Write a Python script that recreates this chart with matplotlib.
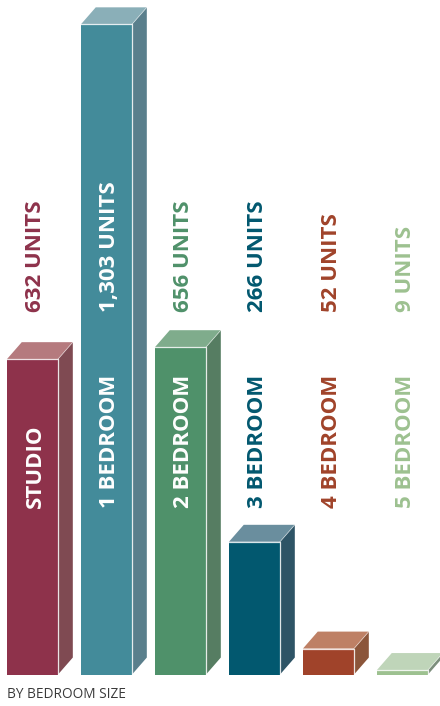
import matplotlib
matplotlib.use('Agg')
import matplotlib.pyplot as plt
from matplotlib.patches import Polygon

# data
categories = ['STUDIO', '1 BEDROOM', '2 BEDROOM', '3 BEDROOM', '4 BEDROOM', '5 BEDROOM']
units = [632, 1303, 656, 266, 52, 9]
unit_labels = ['632 UNITS', '1,303 UNITS', '656 UNITS', '266 UNITS', '52 UNITS', '9 UNITS']

front_colors = ['#8e324b', '#438b9a', '#4f916a', '#02586f', '#a0432a', '#9dc190']
side_colors = ['#7f4a52', '#5a7f8c', '#567d62', '#2e5466', '#8b553a', '#7c8e7c']
top_colors = ['#b57a7e', '#8aafb8', '#7fac8c', '#6a8e9e', '#be8065', '#bfd5b9']
# label on the bar is white for the tall ones, coloured for the short ones
cat_text_colors = ['white', 'white', 'white', '#02586f', '#a0432a', '#9dc190']

width = 0.69
dx = 0.2     # depth of the box, in category units
dy = 34      # depth of the box, in unit units

fig = plt.figure(figsize=(4.4, 7.06), dpi=100)
ax = fig.add_axes([0, 0, 1, 1])
ax.set_xlim(-0.439, 5.507)
ax.set_ylim(-63.1, 1351.7)
ax.axis('off')

for i, v in enumerate(units):
    left = i - width / 2
    right = i + width / 2
    ax.bar(i, v, width=width, color=front_colors[i], linewidth=0, zorder=2)
    side = Polygon([(right, 0), (right + dx, dy), (right + dx, v + dy), (right, v)],
                   closed=True, facecolor=side_colors[i], linewidth=0, zorder=2)
    ax.add_patch(side)
    top = Polygon([(left, v), (left + dx, v + dy), (right + dx, v + dy), (right, v)],
                  closed=True, facecolor=top_colors[i], linewidth=0, zorder=2)
    ax.add_patch(top)
    # thin light edges
    ax.plot([left, right, right], [v, v, 0], color='white', lw=0.9, alpha=0.85, zorder=3)
    ax.plot([right, right + dx], [v, v + dy], color='white', lw=0.6, alpha=0.5, zorder=3)

    ax.text(i + 0.035, 726, unit_labels[i], rotation=90, ha='center', va='bottom',
            fontsize=16, fontweight='bold', family='Open Sans',
            color='white' if i == 1 else front_colors[i], zorder=4)
    ax.text(i + 0.035, 334, categories[i], rotation=90, ha='center', va='bottom',
            fontsize=16, fontweight='bold', family='Open Sans',
            color=cat_text_colors[i], zorder=4)

fig.text(7 / 440, 1 - 694 / 706, 'BY BEDROOM SIZE', ha='left', va='center',
         fontsize=9.8, family='Open Sans', color='#3a3a3a')

plt.savefig('out.png', dpi=100)
